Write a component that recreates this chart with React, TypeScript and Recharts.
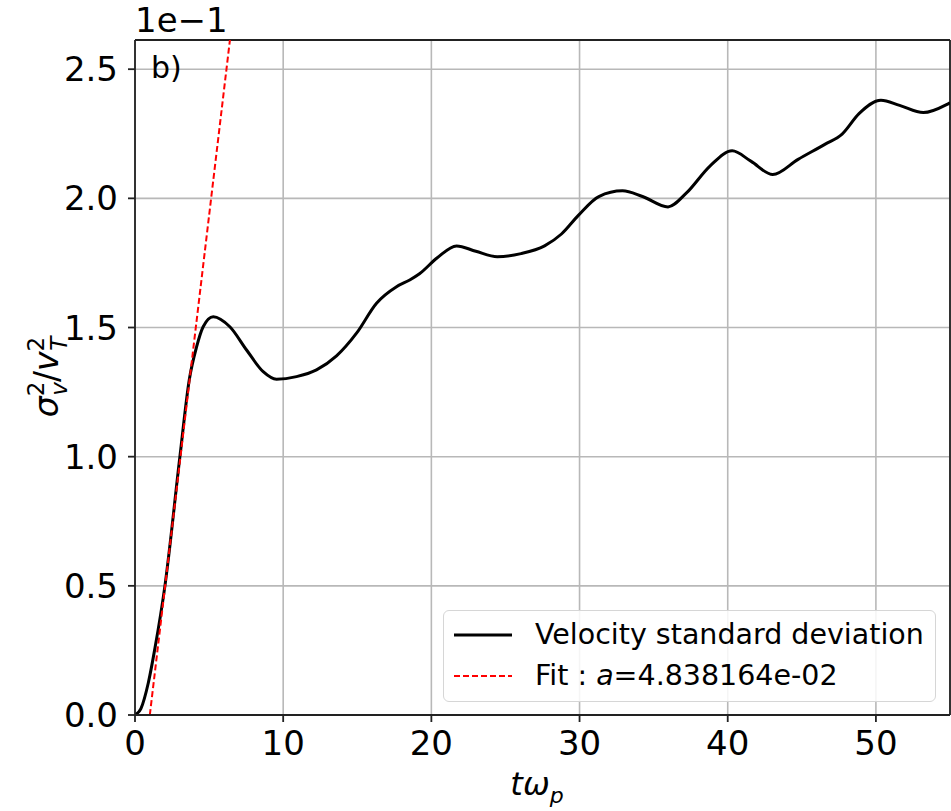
import {
  CartesianGrid,
  Label,
  Line,
  LineChart,
  ReferenceLine,
  XAxis,
  YAxis,
} from "recharts";

// time axis (t·ω_p) and variance values (in units of 1e-1)
const timeValues = [
  0, 0.4, 0.9, 1.35, 2.02, 3.03, 3.66, 4.16, 4.6, 5.28, 6.4, 7.53, 8.65, 9.55,
  10.9, 12.25, 13.6, 14.95, 16.3, 17.65, 18.54, 19.2, 20.4, 21.7, 23.0, 24.45,
  26.05, 27.64, 28.78, 29.92, 31.3, 32.9, 34.25, 35.97, 37.2, 38.8, 40.3, 41.56,
  43.04, 44.75, 46.58, 47.72, 48.86, 50.34, 51.6, 53.2, 54.9, 55,
];
const varianceValues = [
  0, 0.025, 0.125, 0.26, 0.5, 1.0, 1.297, 1.426, 1.503, 1.542, 1.503, 1.413,
  1.329, 1.3, 1.31, 1.336, 1.39, 1.478, 1.594, 1.658, 1.684, 1.708, 1.77, 1.816,
  1.795, 1.774, 1.786, 1.816, 1.862, 1.934, 2.007, 2.029, 2.007, 1.967, 2.02,
  2.125, 2.184, 2.144, 2.092, 2.151, 2.21, 2.249, 2.328, 2.38, 2.36, 2.332,
  2.367, 2.37,
];

// linear fit line endpoints as drawn
const fitTimes = [1.0, 7.0];
const fitValues = [0, 2.9];

const xTicks = [0, 10, 20, 30, 40, 50];
const yTicks = [0, 0.5, 1.0, 1.5, 2.0, 2.5];
const xMax = 55;
const yMax = 2.613;

const seriesLabel = "Velocity standard deviation";
const fitLabel = "4.838164e-02";

const FONT = "'DejaVu Sans', sans-serif";

const curveData = timeValues.map((t, i) => ({ t, v: varianceValues[i] }));
const fitData = fitTimes.map((t, i) => ({ t, f: fitValues[i] }));

function YAxisTitle() {
  return (
    <text
      x={58}
      y={377}
      textAnchor="middle"
      transform="rotate(-90 58 377)"
      fontFamily={FONT}
      fontSize={33}
      fontStyle="italic"
      fill="#000"
    >
      <tspan>σ</tspan>
      <tspan fontSize={23} dy={-14} fontStyle="normal">2</tspan>
      <tspan fontSize={23} dx={-14} dy={23}>v</tspan>
      <tspan dy={-9} fontStyle="normal">/</tspan>
      <tspan>v</tspan>
      <tspan fontSize={23} dy={-14} fontStyle="normal">2</tspan>
      <tspan fontSize={23} dx={-14} dy={23}>T</tspan>
    </text>
  );
}

function XAxisTitle() {
  return (
    <text
      x={537}
      y={795}
      textAnchor="middle"
      fontFamily={FONT}
      fontSize={32}
      fontStyle="italic"
      fill="#000"
    >
      <tspan>tω</tspan>
      <tspan fontSize={22} dy={8}>p</tspan>
    </text>
  );
}

function FitLegend() {
  const row = {
    display: "flex",
    alignItems: "center",
    height: 41,
  } as const;
  return (
    <div
      style={{
        position: "absolute",
        left: 443,
        top: 610,
        boxSizing: "border-box",
        width: 493,
        height: 92,
        border: "1.5px solid #d6d6d6",
        borderRadius: 6,
        background: "rgba(255,255,255,0.85)",
        padding: "3px 0 0 10px",
        fontFamily: FONT,
        fontSize: 28.5,
        color: "#000",
      }}
    >
      <div style={row}>
        <svg width={58} height={10} style={{ marginRight: 23 }}>
          <line x1={0} y1={5} x2={58} y2={5} stroke="#000" strokeWidth={2.8} />
        </svg>
        <span>{seriesLabel}</span>
      </div>
      <div style={row}>
        <svg width={58} height={10} style={{ marginRight: 23 }}>
          <line
            x1={0}
            y1={5}
            x2={58}
            y2={5}
            stroke="#ff0000"
            strokeWidth={2}
            strokeDasharray="6 3"
          />
        </svg>
        <span>
          Fit : <i>a</i>={fitLabel}
        </span>
      </div>
    </div>
  );
}

export default function App() {
  return (
    <div
      style={{
        position: "absolute",
        left: 0,
        top: 0,
        width: 951,
        height: 811,
        background: "#fff",
        fontFamily: FONT,
      }}
    >
      <LineChart
        width={951}
        height={811}
        margin={{ top: 40, right: 1, bottom: 0, left: 0 }}
      >
        <CartesianGrid stroke="#b8b8b8" strokeWidth={1.6} />
        <XAxis
          dataKey="t"
          type="number"
          domain={[0, xMax]}
          ticks={xTicks}
          allowDataOverflow
          height={96}
          stroke="#222"
          strokeWidth={1.8}
          tickSize={7}
          tickMargin={9}
          tick={{ fontSize: 34, fill: "#000", fontFamily: FONT }}
        >
          <Label content={<XAxisTitle />} />
        </XAxis>
        <YAxis
          type="number"
          domain={[0, yMax]}
          ticks={yTicks}
          allowDataOverflow
          width={135}
          stroke="#222"
          strokeWidth={1.8}
          tickSize={7}
          tickMargin={10}
          tickFormatter={(v: number) => v.toFixed(1)}
          tick={{ fontSize: 34, fill: "#000", fontFamily: FONT }}
        >
          <Label content={<YAxisTitle />} />
        </YAxis>
        <ReferenceLine y={yMax} stroke="#222" strokeWidth={1.8} />
        <ReferenceLine x={xMax} stroke="#222" strokeWidth={1.8} />
        <Line
          data={curveData}
          dataKey="v"
          name={seriesLabel}
          type="monotone"
          stroke="#000"
          strokeWidth={3}
          dot={false}
          isAnimationActive={false}
        />
        <Line
          data={fitData}
          dataKey="f"
          name="Fit"
          type="linear"
          stroke="#ff0000"
          strokeWidth={2}
          strokeDasharray="6 3"
          dot={false}
          isAnimationActive={false}
        />
      </LineChart>
      <FitLegend />
      <div
        style={{
          position: "absolute",
          left: 135,
          top: 0,
          fontSize: 34,
          lineHeight: "40px",
          color: "#000",
        }}
      >
        1e−1
      </div>
      <div
        style={{
          position: "absolute",
          left: 151,
          top: 50,
          fontSize: 30,
          lineHeight: "36px",
          color: "#000",
        }}
      >
        b)
      </div>
    </div>
  );
}
